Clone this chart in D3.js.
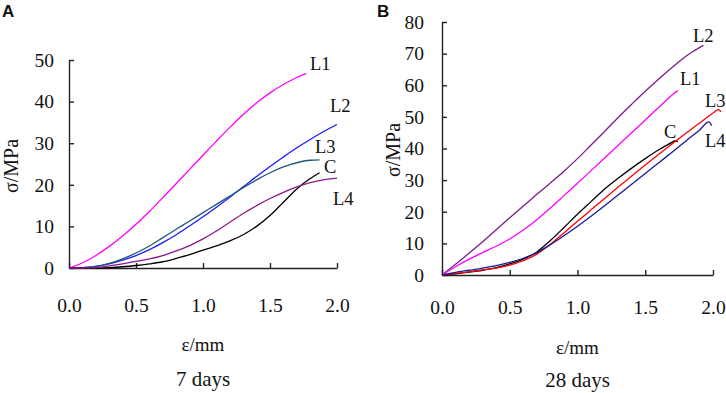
<!DOCTYPE html>
<html><head><meta charset="utf-8">
<script src="https://cdn.jsdelivr.net/npm/d3@7"></script>
<style>
html,body{margin:0;padding:0;background:#fff;}
svg{display:block;}
</style></head>
<body>
<svg id="c" width="726" height="393"></svg>
<script>
// ---------- Data (ε in mm, σ in MPa) ----------
const xTicks = [0, 0.5, 1.0, 1.5, 2.0];
const yTicksA = [0, 10, 20, 30, 40, 50];
const yTicksB = [0, 10, 20, 30, 40, 50, 60, 70, 80];

// Panel A: 7 days
const A_L1_e = [0,0.1,0.2,0.3,0.4,0.5,0.6,0.7,0.8,0.9,1.0,1.1,1.2,1.3,1.4,1.5,1.6,1.7,1.77];
const A_L1_s = [0,1.2,3.0,5.2,7.7,10.5,13.6,16.9,20.3,23.7,27.1,30.5,33.8,36.9,39.7,42.1,44.1,45.8,46.7];
const A_L2_e = [0,0.1,0.2,0.3,0.4,0.5,0.6,0.7,0.8,0.9,1.0,1.1,1.2,1.3,1.4,1.5,1.6,1.7,1.8,1.9,2.0];
const A_L2_s = [0,0.1,0.4,1.0,1.9,3.0,4.4,6.1,8.0,10.1,12.3,14.6,17.0,19.5,22.0,24.4,26.7,28.9,30.9,32.8,34.5];
const A_L3_e = [0,0.1,0.2,0.3,0.4,0.5,0.6,0.7,0.8,0.9,1.0,1.1,1.2,1.3,1.4,1.5,1.6,1.7,1.8,1.87];
const A_L3_s = [0,0.1,0.4,1.1,2.2,3.6,5.3,7.3,9.3,11.3,13.3,15.3,17.3,19.3,21.2,22.9,24.3,25.3,25.9,26.0];
const A_C_e  = [0,0.2,0.3,0.4,0.5,0.6,0.7,0.8,0.9,1.0,1.1,1.2,1.3,1.4,1.5,1.6,1.7,1.8,1.87];
const A_C_s  = [0,0,0.1,0.3,0.6,1.0,1.5,2.3,3.2,4.3,5.3,6.5,8.0,10.0,12.6,15.8,19.0,21.5,22.9];
const A_L4_e = [0,0.1,0.2,0.3,0.4,0.5,0.6,0.7,0.8,0.9,1.0,1.1,1.2,1.3,1.4,1.5,1.6,1.7,1.8,1.9,2.0];
const A_L4_s = [0,0,0.1,0.5,1.0,1.6,2.2,3.0,4.1,5.4,7.0,8.9,11.0,13.1,15.0,16.7,18.2,19.5,20.5,21.2,21.6];

// Panel B: 28 days
const B_L2_e = [0,0.1,0.2,0.3,0.4,0.5,0.6,0.7,0.8,0.9,1.0,1.1,1.2,1.3,1.4,1.5,1.6,1.7,1.8,1.9,1.93];
const B_L2_s = [0,3.4,6.9,10.5,14.3,18.1,21.8,25.5,29.1,32.8,36.8,41.1,45.4,49.8,54.0,58.1,62.0,65.7,69.2,71.9,72.6];
const B_L1_e = [0,0.1,0.2,0.3,0.4,0.5,0.6,0.7,0.8,0.9,1.0,1.1,1.2,1.3,1.4,1.5,1.6,1.7,1.74];
const B_L1_s = [0,2.6,5.0,7.1,9.1,11.4,14.2,17.5,21.2,25.1,29.0,33.0,37.0,41.0,45.0,49.0,53.0,57.0,58.3];
const B_C_e  = [0,0.1,0.2,0.3,0.4,0.5,0.6,0.7,0.8,0.9,1.0,1.1,1.2,1.3,1.4,1.5,1.6,1.7,1.72,1.74];
const B_C_s  = [0,0.4,0.9,1.5,2.3,3.5,5.0,7.3,10.9,15.0,19.2,23.2,27.2,30.6,33.8,36.8,39.6,42.0,42.5,42.1];
const B_L3_e = [0,0.1,0.2,0.3,0.4,0.5,0.6,0.7,0.8,0.9,1.0,1.1,1.2,1.3,1.4,1.5,1.6,1.7,1.8,1.9,2.0,2.04,2.06];
const B_L3_s = [0,0.5,1.0,1.6,2.2,3.1,4.5,6.6,9.7,13.3,17.0,20.6,24.2,27.8,31.3,34.8,38.2,41.5,44.8,48.0,51.2,52.3,51.6];
const B_L4_e = [0,0.1,0.2,0.3,0.4,0.5,0.6,0.7,0.8,0.9,1.0,1.1,1.2,1.3,1.4,1.5,1.6,1.7,1.8,1.9,1.97,1.99];
const B_L4_s = [0,0.8,1.5,2.2,3.0,4.0,5.3,7.1,9.6,12.4,15.4,18.6,21.9,25.3,28.7,32.1,35.5,38.9,42.4,45.8,48.4,47.2];

const seriesA = [
  {name:"L1", e:A_L1_e, s:A_L1_s, color:"#ff00ff", lx:310, ly:70},
  {name:"L2", e:A_L2_e, s:A_L2_s, color:"#1a1aff", lx:330, ly:112},
  {name:"L3", e:A_L3_e, s:A_L3_s, color:"#1f5878", lx:315, ly:153},
  {name:"C",  e:A_C_e,  s:A_C_s,  color:"#000000", lx:324, ly:173},
  {name:"L4", e:A_L4_e, s:A_L4_s, color:"#8a1a8a", lx:333, ly:205}
];
const seriesB = [
  {name:"L2", e:B_L2_e, s:B_L2_s, color:"#7a1f8a", lx:693, ly:42},
  {name:"L1", e:B_L1_e, s:B_L1_s, color:"#ff00ff", lx:680, ly:85},
  {name:"C",  e:B_C_e,  s:B_C_s,  color:"#000000", lx:664, ly:138},
  {name:"L3", e:B_L3_e, s:B_L3_s, color:"#ff0000", lx:705, ly:107},
  {name:"L4", e:B_L4_e, s:B_L4_s, color:"#1a1a99", lx:705, ly:147}
];

const svg = d3.select("#c");
const serif = '"Liberation Serif","Times New Roman",serif';

function panel(cfg){
  const x = d3.scaleLinear().domain([0,2]).range([cfg.x0, cfg.x1]);
  const y = d3.scaleLinear().domain([0,cfg.ymax]).range([cfg.y0, cfg.y1]);
  const g = svg.append("g");

  const ax = g.append("g").attr("transform",`translate(0,${cfg.y0})`)
    .call(d3.axisBottom(x).tickValues(xTicks).tickFormat(d3.format(".1f"))
      .tickSizeInner(-5).tickSizeOuter(0).tickPadding(cfg.xpad));
  const ay = g.append("g").attr("transform",`translate(${cfg.x0},0)`)
    .call(d3.axisLeft(y).tickValues(cfg.yTicks).tickFormat(d3.format("d"))
      .tickSizeInner(-5).tickSizeOuter(0).tickPadding(cfg.ypad));
  [ax,ay].forEach(a=>{
    a.attr("font-family", serif).attr("font-size", 19.5);
    a.selectAll(".tick text").attr("font-family", serif).attr("font-size", 19.5).attr("fill","#111");
    a.select(".domain").attr("stroke","#222").attr("stroke-width",1.4);
    a.selectAll(".tick line").attr("stroke","#222").attr("stroke-width",1.4);
  });

  const line = d3.line().x(d=>x(d[0])).y(d=>y(d[1])).curve(d3.curveMonotoneX);
  cfg.series.forEach(sr=>{
    const pts = sr.e.map((v,i)=>[v, sr.s[i]]);
    g.append("path").attr("d", line(pts)).attr("fill","none")
      .attr("stroke", sr.color).attr("stroke-width",1.3);
    g.append("text").attr("x", sr.lx).attr("y", sr.ly).text(sr.name)
      .attr("font-family", serif).attr("font-size",18.5).attr("fill","#111");
  });

  const cx = (cfg.x0+cfg.x1)/2;
  g.append("text").attr("x",cx).attr("y",cfg.xlabY).attr("text-anchor","middle")
    .attr("font-family",serif).attr("font-size",19).attr("fill","#111").text("ε/mm");
  g.append("text").attr("x",cx).attr("y",cfg.titleY).attr("text-anchor","middle")
    .attr("font-family",serif).attr("font-size",21).attr("fill","#111").text(cfg.title);
  g.append("text").attr("transform",`translate(${cfg.ylabX},${cfg.ylabY}) rotate(-90)`)
    .attr("text-anchor","middle").attr("font-family",serif).attr("font-size",20)
    .attr("fill","#111").text("σ/MPa");
  g.append("text").attr("x",cfg.letterX).attr("y",17).text(cfg.letter)
    .attr("font-family","'Liberation Sans',Arial,sans-serif").attr("font-weight","bold")
    .attr("font-size",17).attr("fill","#111");
}

panel({x0:69, x1:337, y0:268, y1:60, ymax:50, yTicks:yTicksA, series:seriesA,
  xpad:30, ypad:15, xlabY:351, titleY:386, ylabX:18, ylabY:166, title:"7 days", letter:"A", letterX:2});
panel({x0:442, x1:713, y0:275, y1:22, ymax:80, yTicks:yTicksB, series:seriesB,
  xpad:25, ypad:18, xlabY:354, titleY:387, ylabX:400, ylabY:150, title:"28 days", letter:"B", letterX:377});
</script>
</body></html>
